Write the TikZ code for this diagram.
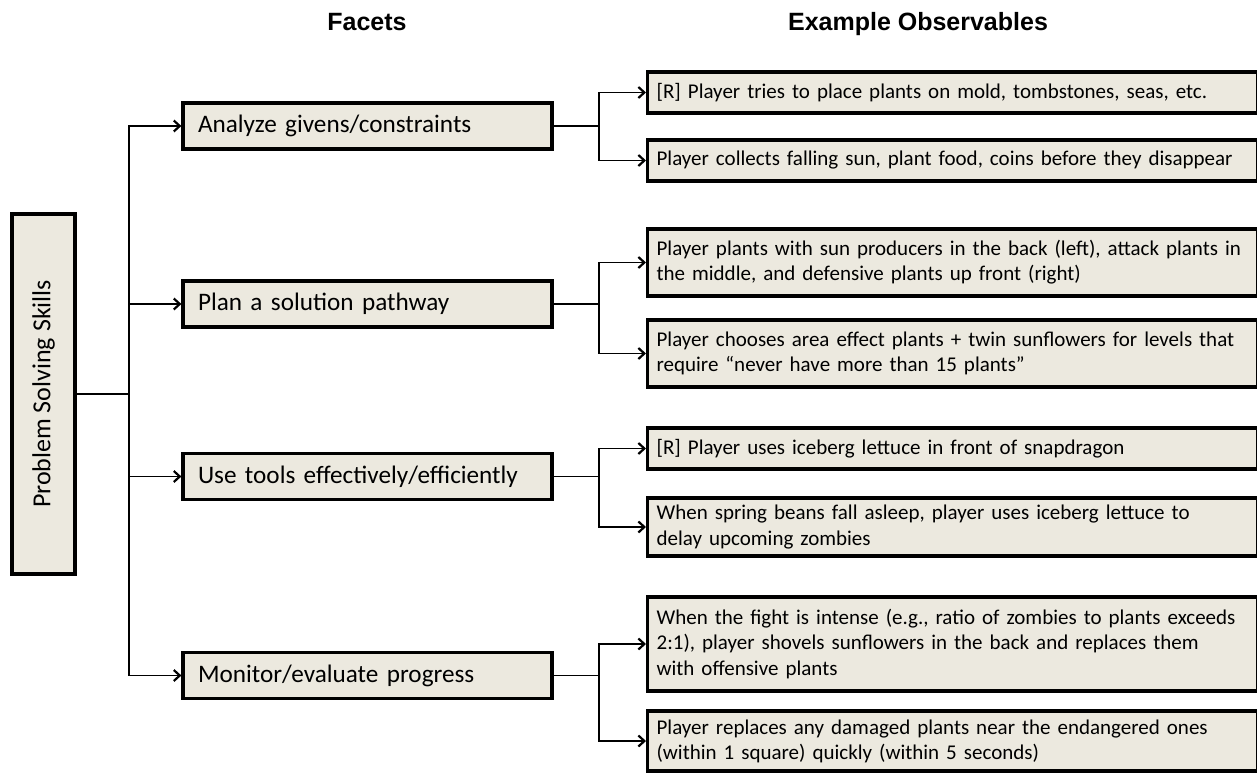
\documentclass[tikz,border=0pt]{standalone}
\usepackage{fontspec}
\setmainfont{Carlito}
\newfontfamily\headfont{Liberation Sans}
\usetikzlibrary{arrows.meta,shadows}
\definecolor{boxfill}{RGB}{236,233,223}

\begin{document}
\begin{tikzpicture}[x=0.5pt,y=-0.5pt,
	box/.style={draw,line width=1.6pt,fill=boxfill,align=left,drop shadow={shadow xshift=0.8pt,shadow yshift=-0.8pt,opacity=0.3}},
	facet/.style={box,text width=169.5pt,inner xsep=7.5pt,minimum height=23pt,font=\fontsize{12.6}{15}\selectfont},
	obs/.style={box,anchor=west,text width=296pt,inner xsep=4.5pt,font=\fontsize{10.5}{12.6}\selectfont},
	head/.style={anchor=base,font=\headfont\bfseries\fontsize{12.5}{15}\selectfont},
	link/.style={line width=0.7pt},
	tip/.style={link,-{Straight Barb[length=3pt,width=5.5pt,line width=1.1pt]}}]
	\useasboundingbox (0,0) rectangle (1257,776);
	\node[head] (hfacets) at (367,31) {Facets};
	\node[head] (hobs) at (918,31) {Example Observables};
	\node[box,minimum width=31.5pt,minimum height=180pt,inner sep=0pt,
		label={[rotate=90,font=\fontsize{13}{15}\selectfont]center:Problem Solving Skills}] (root) at (43.5,394) {};
	\coordinate (trunk) at (129,394);
	\draw[link] (root.east) -- (trunk);
	\foreach \name/\ypos/\txt in {f1/126/{Analyze givens/constraints}, f2/304/{Plan a solution pathway},
		f3/476.5/{Use tools effectively/efficiently}, f4/675.5/{Monitor/evaluate progress}} {
		\node[facet] (\name) at (367.5,\ypos) {\txt};
		\coordinate (\name-b) at (599,\ypos);
		\draw[tip] (trunk) |- (\name.west);
		\draw[link] (\name.east) -- (\name-b);
	}
	\foreach \parent/\name/\ypos/\boxh/\txt in {
		f1/o1/92.5/20.5/{[R] Player tries to place plants on mold, tombstones, seas, etc.},
		f1/o2/160.5/20.5/{Player collects falling sun, plant food, coins before they disappear},
		f2/o3/262.5/33.5/{Player plants with sun producers in the back (left), attack plants in\\the middle, and defensive plants up front (right)},
		f2/o4/353.5/33.5/{Player chooses area effect plants + twin sunflowers for levels that\\require “never have more than 15 plants”},
		f3/o5/448.5/20.5/{[R] Player uses iceberg lettuce in front of snapdragon},
		f3/o6/527/29/{When spring beans fall asleep, player uses iceberg lettuce to\\delay upcoming zombies},
		f4/o7/644/47/{When the fight is intense (e.g., ratio of zombies to plants exceeds\\2:1), player shovels sunflowers in the back and replaces them\\with offensive plants},
		f4/o8/741/30/{Player replaces any damaged plants near the endangered ones\\(within 1 square) quickly (within 5 seconds)}} {
		\node[obs,minimum height=\boxh pt] (\name) at (646,\ypos) {\txt};
		\draw[tip] (\parent-b) |- (\name.west);
	}
\end{tikzpicture}
\end{document}
